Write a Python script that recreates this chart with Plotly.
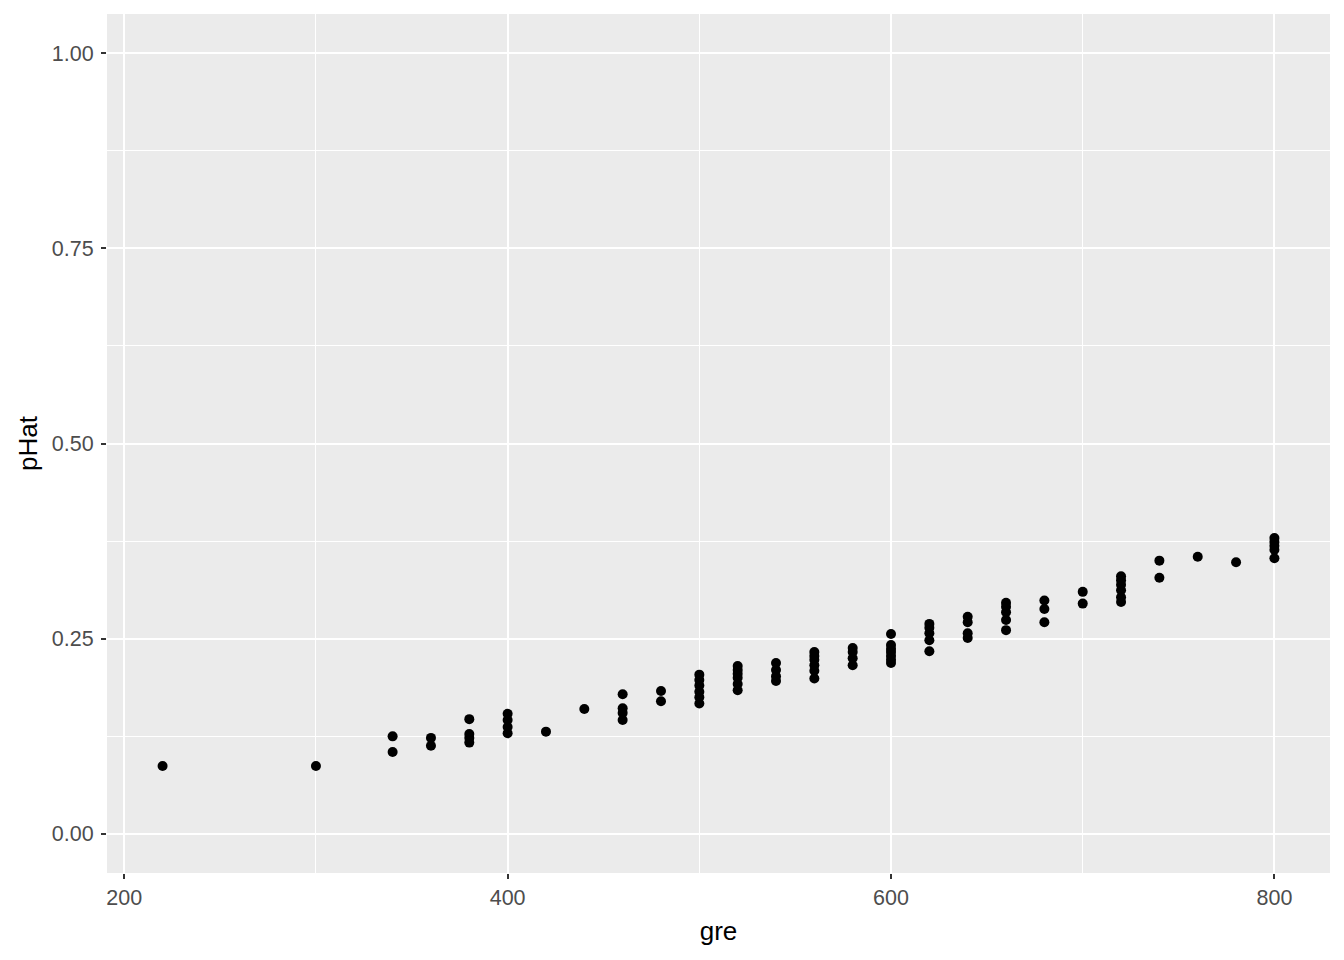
import plotly.graph_objects as go

# gre values and fitted probabilities (pHat)
gre = [
    220,
    300,
    340, 340,
    360, 360,
    380, 380, 380, 380,
    400, 400, 400, 400,
    420,
    440,
    460, 460, 460, 460,
    480, 480,
    500, 500, 500, 500, 500, 500,
    520, 520, 520, 520, 520, 520,
    540, 540, 540, 540,
    560, 560, 560, 560, 560, 560,
    580, 580, 580, 580,
    600, 600, 600, 600, 600, 600, 600,
    620, 620, 620, 620, 620,
    640, 640, 640, 640,
    660, 660, 660, 660, 660,
    680, 680, 680,
    700, 700,
    720, 720, 720, 720, 720, 720,
    740, 740,
    760,
    780,
    800, 800, 800, 800, 800,
]
pHat = [
    0.087,
    0.087,
    0.125, 0.105,
    0.123, 0.113,
    0.147, 0.128, 0.123, 0.117,
    0.154, 0.146, 0.137, 0.129,
    0.131,
    0.160,
    0.179, 0.161, 0.155, 0.146,
    0.183, 0.170,
    0.204, 0.197, 0.190, 0.182, 0.175, 0.167,
    0.215, 0.210, 0.205, 0.200, 0.192, 0.184,
    0.219, 0.210, 0.202, 0.196,
    0.233, 0.228, 0.223, 0.216, 0.209, 0.199,
    0.238, 0.233, 0.225, 0.216,
    0.256, 0.242, 0.237, 0.233, 0.228, 0.223, 0.219,
    0.269, 0.264, 0.257, 0.248, 0.234,
    0.278, 0.271, 0.257, 0.251,
    0.296, 0.291, 0.284, 0.274, 0.261,
    0.299, 0.288, 0.271,
    0.310, 0.295,
    0.330, 0.325, 0.319, 0.312, 0.303, 0.297,
    0.350, 0.328,
    0.355,
    0.348,
    0.379, 0.374, 0.369, 0.364, 0.353,
]

x_ticks = [200, 400, 600, 800]
y_ticks = [0.0, 0.25, 0.5, 0.75, 1.0]
y_labels = ["0.00", "0.25", "0.50", "0.75", "1.00"]

fig = go.Figure()
fig.add_trace(go.Scatter(
    x=gre, y=pHat, mode="markers",
    marker=dict(color="black", size=10, line=dict(width=0)),
    showlegend=False,
))

tick_font = dict(family="Liberation Sans, Arial, sans-serif", size=21.5, color="#4D4D4D")
title_font = dict(family="Liberation Sans, Arial, sans-serif", size=26, color="black")

fig.update_layout(
    width=1336, height=952,
    margin=dict(l=99, r=14, t=6, b=87),
    paper_bgcolor="white",
    plot_bgcolor="#EBEBEB",
    xaxis=dict(
        title=dict(text="gre", font=title_font, standoff=13),
        range=[191, 829],
        tickvals=x_ticks,
        ticktext=[str(v) for v in x_ticks],
        tickfont=tick_font,
        ticks="outside", ticklen=5, tickwidth=1.5, tickcolor="#333333",
        showgrid=True, gridcolor="white", gridwidth=2,
        minor=dict(tickvals=[300, 500, 700], showgrid=True, gridcolor="white", gridwidth=1, ticks=""),
        zeroline=False, showline=False,
    ),
    yaxis=dict(
        title=dict(text="pHat", font=title_font, standoff=6),
        range=[-0.05, 1.05],
        tickvals=y_ticks,
        ticktext=y_labels,
        tickfont=tick_font,
        ticklabelstandoff=3,
        ticks="outside", ticklen=5, tickwidth=1.5, tickcolor="#333333",
        showgrid=True, gridcolor="white", gridwidth=2,
        minor=dict(tickvals=[0.125, 0.375, 0.625, 0.875], showgrid=True, gridcolor="white", gridwidth=1, ticks=""),
        zeroline=False, showline=False,
    ),
)

fig.write_html("out.html")
